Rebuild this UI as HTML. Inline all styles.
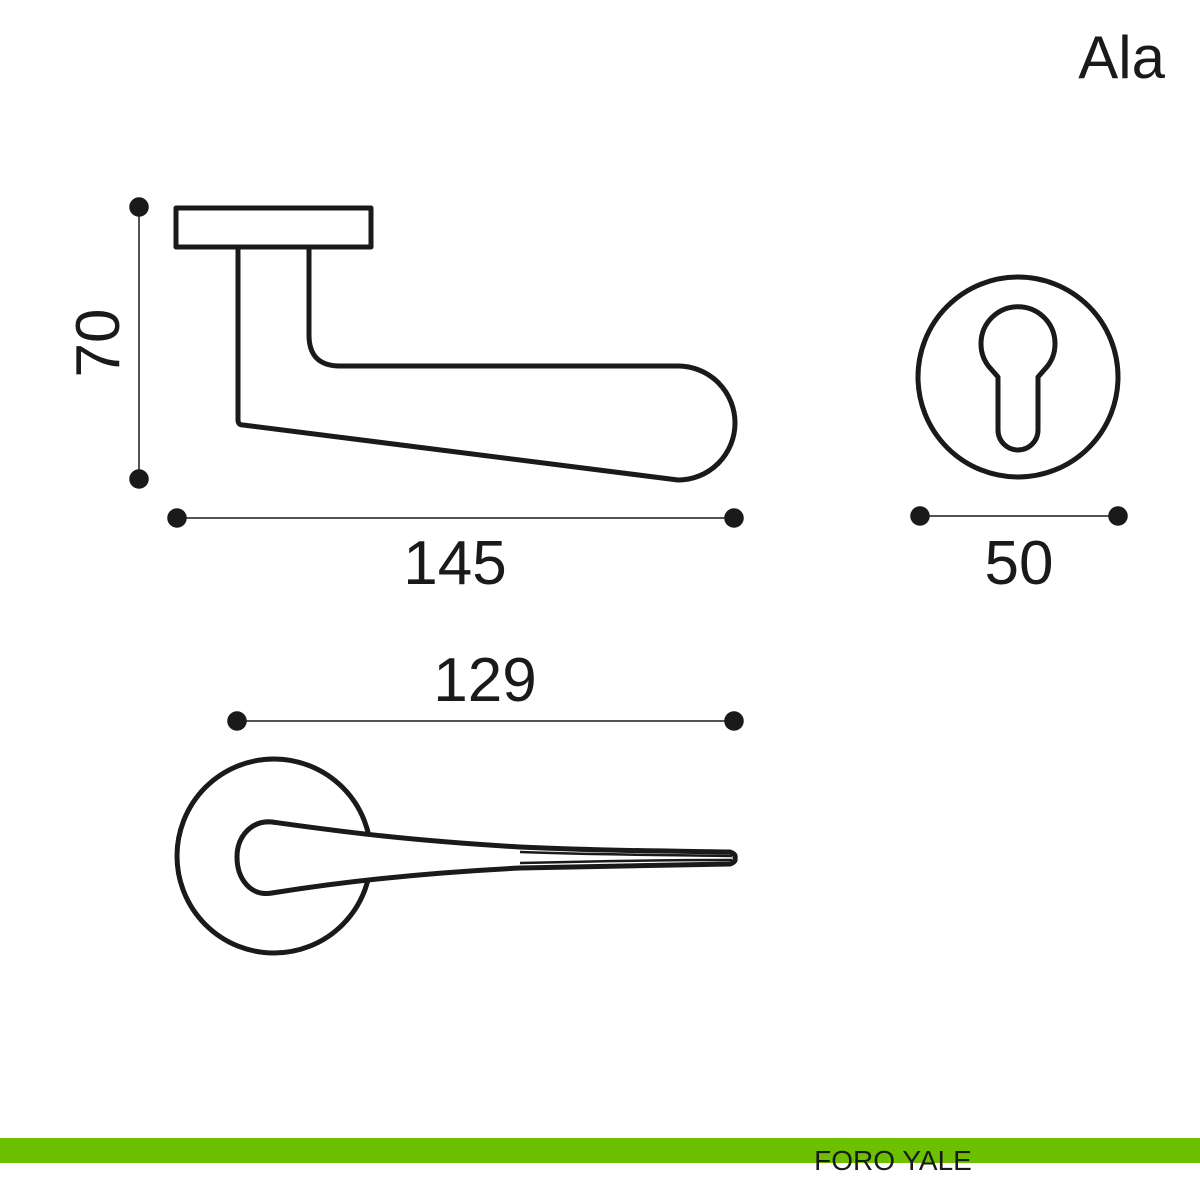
<!DOCTYPE html>
<html><head><style>
body{margin:0;background:#fff;}
svg{display:block}
</style></head><body>
<svg width="1200" height="1200" viewBox="0 0 1200 1200" xmlns="http://www.w3.org/2000/svg">
<rect width="1200" height="1200" fill="#fff"/>
<g fill="none" stroke="#1a1a1a" stroke-width="5" stroke-linejoin="round" stroke-linecap="round">
  <rect x="176" y="208" width="195" height="39"/>
  <path d="M238 247 V420 Q238 425 243 425 L678 480 A57 57 0 0 0 678 366 H340 Q309 366 309 335 V247"/>
  <circle cx="1018" cy="377" r="100"/>
  <path d="M998 377 L991 369 A37 37 0 1 1 1045 369 L1038 377 V430 A20 20 0 0 1 998 430 Z"/>
  <circle cx="274" cy="856" r="97"/>
</g>
<g stroke="#1a1a1a" fill="#fff" stroke-width="5" stroke-linejoin="round">
  <path d="M272 822 C330 830 400 840 520 847 C600 851 680 851 730 852 Q736 854 735 858 Q736 862 730 864 C680 865 600 866 520 868 C420 873 340 882 272 893 C250 897 237 878 237 857 C237 836 252 820 272 822 Z"/>
</g>
<g stroke="#1a1a1a" stroke-width="2.5" fill="none">
  <path d="M520 852 C600 855 680 855 732 856 M520 863 C600 861 680 860 732 860"/>
</g>
<g stroke="#1a1a1a" stroke-width="1.5" fill="#1a1a1a">
  <line x1="139" y1="207" x2="139" y2="479"/>
  <line x1="177" y1="518" x2="734" y2="518"/>
  <line x1="920" y1="516" x2="1118" y2="516"/>
  <line x1="237" y1="721" x2="734" y2="721"/>
  <circle cx="139" cy="207" r="9"/><circle cx="139" cy="479" r="9"/>
  <circle cx="177" cy="518" r="9"/><circle cx="734" cy="518" r="9"/>
  <circle cx="920" cy="516" r="9"/><circle cx="1118" cy="516" r="9"/>
  <circle cx="237" cy="721" r="9"/><circle cx="734" cy="721" r="9"/>
</g>
<g font-family="Liberation Sans, sans-serif" fill="#1a1a1a" font-size="62">
  <text x="455" y="584" text-anchor="middle">145</text>
  <text x="1019" y="584" text-anchor="middle">50</text>
  <text x="485" y="701" text-anchor="middle">129</text>
  <text transform="translate(119,343) rotate(-90)" text-anchor="middle">70</text>
  <text x="1165" y="78" text-anchor="end" font-size="60">Ala</text>
</g>
<rect x="0" y="1138" width="1200" height="25" fill="#6cc000"/>
<text x="893" y="1170" text-anchor="middle" font-family="Liberation Sans, sans-serif" font-size="28" fill="#1a1a1a">FORO YALE</text>
</svg>
</body></html>
